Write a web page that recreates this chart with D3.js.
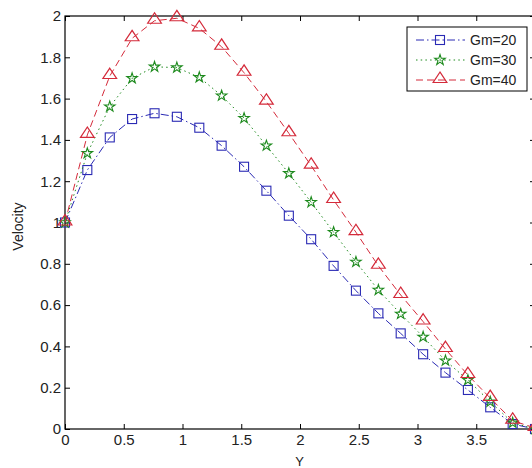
<!DOCTYPE html>
<html>
<head>
<meta charset="utf-8">
<script src="https://cdn.jsdelivr.net/npm/d3@7"></script>
<style>
  html, body { margin: 0; padding: 0; background: #fff; }
  svg { display: block; }
  text { font-family: "Liberation Sans", Arial, Helvetica, sans-serif; fill: #222; }
</style>
</head>
<body>
<svg id="chart" width="532" height="468"></svg>
<script>
// ---- data ----
const yGrid = [0, 0.19, 0.381, 0.571, 0.762, 0.952, 1.143, 1.333, 1.524, 1.714, 1.905,
               2.095, 2.286, 2.476, 2.667, 2.857, 3.048, 3.238, 3.429, 3.619, 3.81, 4.0];
const gm20 = [1.0, 1.254, 1.412, 1.501, 1.529, 1.512, 1.459, 1.372, 1.270, 1.154, 1.033,
              0.919, 0.79, 0.67, 0.56, 0.463, 0.362, 0.273, 0.189, 0.105, 0.024, 0.0];
const gm30 = [1.0, 1.335, 1.561, 1.698, 1.754, 1.750, 1.703, 1.614, 1.505, 1.372, 1.238,
              1.098, 0.953, 0.809, 0.673, 0.557, 0.446, 0.331, 0.237, 0.132, 0.03, 0.0];
const gm40 = [1.0, 1.424, 1.709, 1.892, 1.977, 1.989, 1.940, 1.851, 1.725, 1.585, 1.432,
              1.275, 1.109, 0.953, 0.79, 0.649, 0.52, 0.387, 0.261, 0.150, 0.04, 0.005];
const seriesNames = ["Gm=20", "Gm=30", "Gm=40"];
const xTicks = [0, 0.5, 1, 1.5, 2, 2.5, 3, 3.5];
const yTicks = [0, 0.2, 0.4, 0.6, 0.8, 1, 1.2, 1.4, 1.6, 1.8, 2];
const xLabel = "Y";
const yLabel = "Velocity";

// ---- layout ----
const L = 65, R = 535, T = 16, B = 429;
const svg = d3.select("#chart");
svg.append("rect").attr("width", 532).attr("height", 468).attr("fill", "#fff");

const x = d3.scaleLinear().domain([0, 4]).range([L, R]);
const y = d3.scaleLinear().domain([0, 2]).range([B, T]);

const fmt = d => String(d);

function styleAxis(g) {
  g.select(".domain").remove();
  g.selectAll(".tick line").attr("stroke", "#000");
  g.selectAll(".tick text").attr("font-size", "15px").attr("fill", "#222")
    .style("font-family", "'Liberation Sans', Arial, sans-serif");
}

svg.append("g").attr("transform", `translate(0,${B})`)
  .call(d3.axisBottom(x).tickValues(xTicks).tickFormat(fmt).tickSizeInner(-5).tickSizeOuter(0).tickPadding(5))
  .call(styleAxis);
svg.append("g").attr("transform", `translate(${L},0)`)
  .call(d3.axisLeft(y).tickValues(yTicks).tickFormat(fmt).tickSizeInner(-5).tickSizeOuter(0).tickPadding(4))
  .call(styleAxis);
svg.append("g").attr("transform", `translate(0,${T})`)
  .call(d3.axisTop(x).tickValues(xTicks).tickFormat("").tickSizeInner(-5).tickSizeOuter(0))
  .call(styleAxis);
svg.append("g").attr("transform", `translate(${R},0)`)
  .call(d3.axisRight(y).tickValues(yTicks).tickFormat("").tickSizeInner(-5).tickSizeOuter(0))
  .call(styleAxis);

svg.append("rect").attr("x", L).attr("y", T).attr("width", R - L).attr("height", B - T)
  .attr("fill", "none").attr("stroke", "#000").attr("stroke-width", 1.2);

// axis labels
svg.append("text").attr("x", (L + R) / 2 - 0.5).attr("y", 466)
  .attr("text-anchor", "middle").attr("font-size", "13px").text(xLabel);
svg.append("text").attr("transform", `translate(23,${(T + B) / 2 + 4}) rotate(-90)`)
  .attr("text-anchor", "middle").attr("font-size", "14px").text(yLabel);

// ---- series ----
const star = d3.symbol().type(d3.symbolStar).size(34);
const tri = d3.symbol().type(d3.symbolTriangle).size(62);
const markers = {
  square: (g) => g.append("rect").attr("x", -4.5).attr("y", -4.5).attr("width", 9).attr("height", 9),
  star: (g) => g.append("path").attr("d", star()),
  triangle: (g) => g.append("path").attr("d", tri()).attr("transform", "translate(0,-1) scale(1.15,1)")
};
const series = [
  { name: seriesNames[0], values: gm20, color: "#2a2ab4", dash: "8,3,1.5,3", marker: "square" },
  { name: seriesNames[1], values: gm30, color: "#1d8a1d", dash: "1.5,3.2", marker: "star" },
  { name: seriesNames[2], values: gm40, color: "#d42a3a", dash: "7,4", marker: "triangle" }
];

const line = d3.line().x((d, i) => x(yGrid[i])).y(d => y(d));

series.forEach(s => {
  svg.append("path").datum(s.values).attr("d", line)
    .attr("fill", "none").attr("stroke", s.color).attr("stroke-width", 1)
    .attr("stroke-dasharray", s.dash);
  s.values.forEach((v, i) => {
    const g = svg.append("g").attr("transform", `translate(${x(yGrid[i])},${y(v)})`);
    markers[s.marker](g).attr("fill", "none").attr("stroke", s.color).attr("stroke-width", 1.1);
  });
});

// ---- legend ----
const lg = svg.append("g");
const lx = 407, ly = 27, lw = 120, lh = 64;
lg.append("rect").attr("x", lx).attr("y", ly).attr("width", lw).attr("height", lh)
  .attr("fill", "#fff").attr("stroke", "#000").attr("stroke-width", 1);
series.forEach((s, k) => {
  const cy = ly + 13 + k * 20;
  lg.append("line").attr("x1", lx + 9).attr("x2", lx + 58).attr("y1", cy).attr("y2", cy)
    .attr("stroke", s.color).attr("stroke-dasharray", s.dash);
  const g = lg.append("g").attr("transform", `translate(${lx + 33},${cy})`);
  markers[s.marker](g).attr("fill", "none").attr("stroke", s.color).attr("stroke-width", 1.1);
  lg.append("text").attr("x", lx + 63).attr("y", cy).attr("dy", "0.36em")
    .attr("font-size", "14px").text(s.name);
});
</script>
</body>
</html>
